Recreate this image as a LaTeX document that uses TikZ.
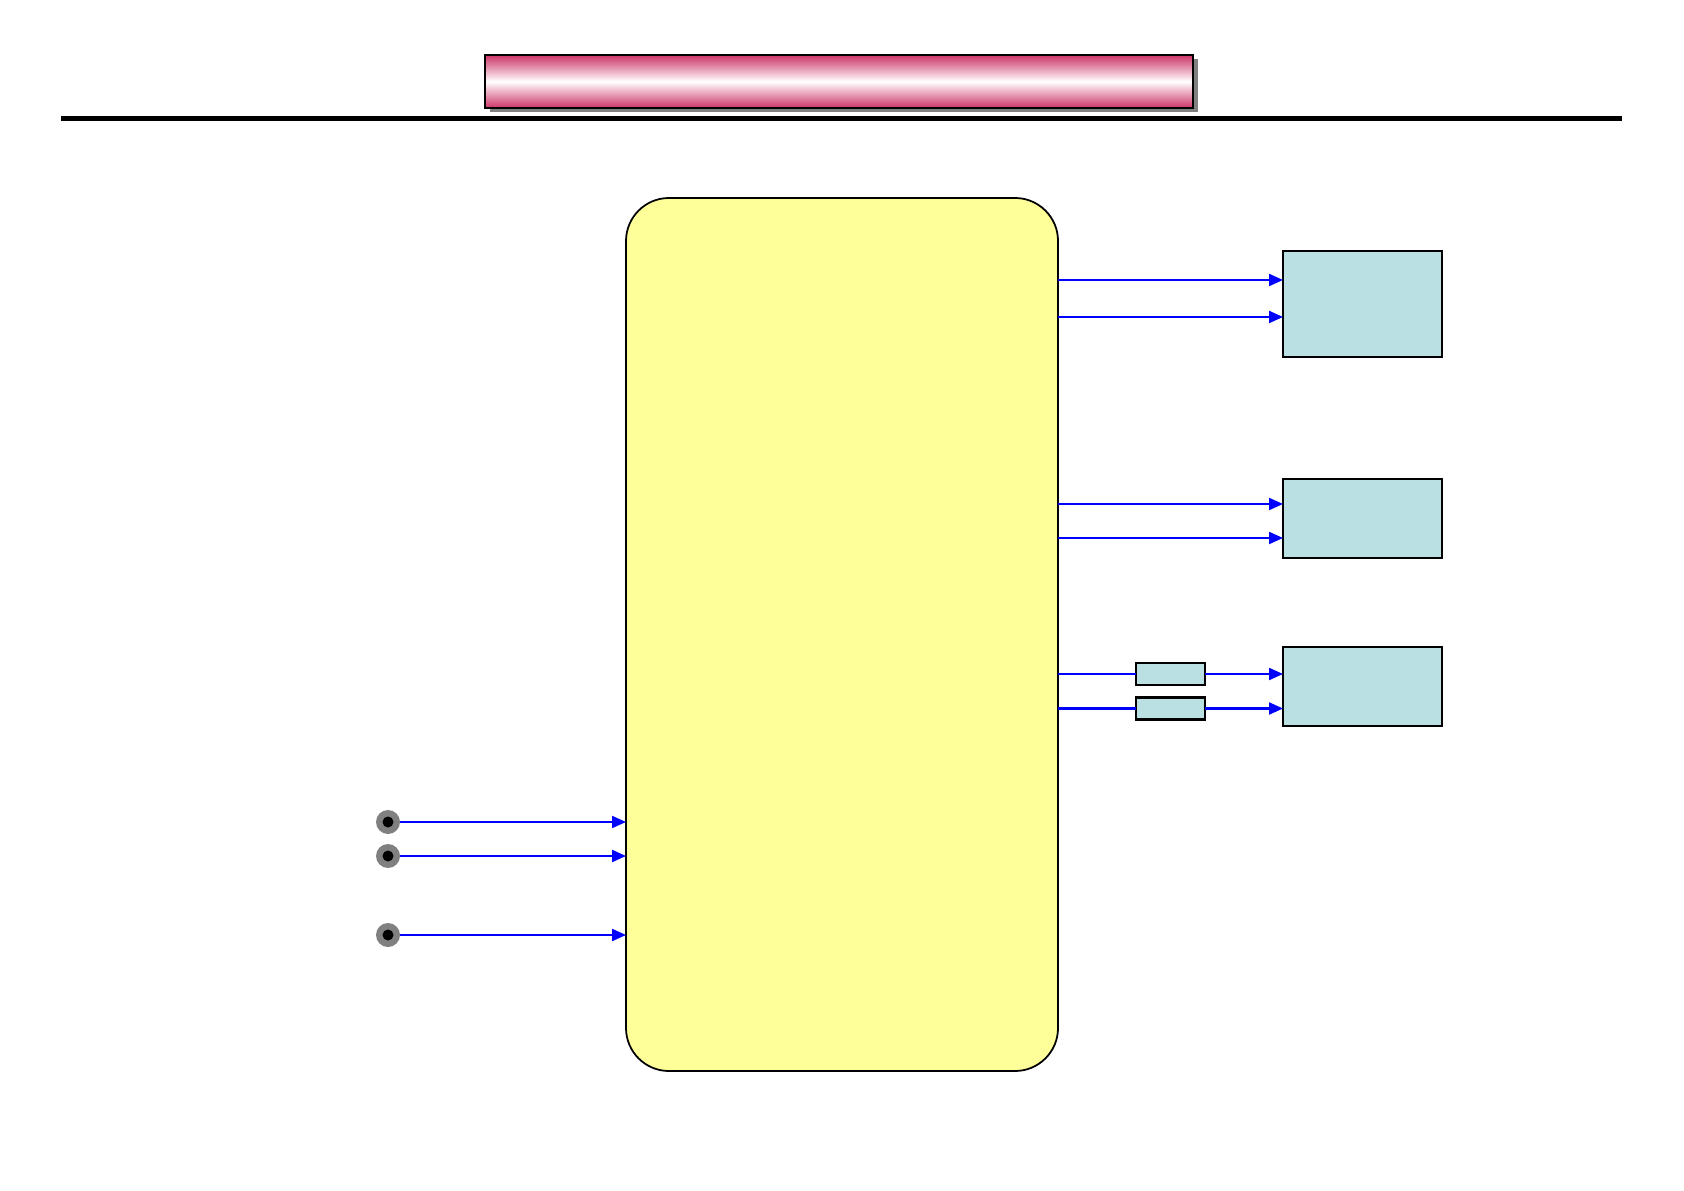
\documentclass[tikz,border=0pt]{standalone}
\usepackage{xcolor,tikz}
\usetikzlibrary{arrows.meta,shadows}
\definecolor{padyellow}{HTML}{FFFF99}
\definecolor{padblue}{HTML}{BBE0E3}
\definecolor{rose}{HTML}{CC3366}
\tikzset{core/.style={draw=black,fill=padyellow,rounded corners=4.3mm,line width=0.5pt,
 minimum width=4.32cm,minimum height=8.73cm,inner sep=0pt,outer sep=0pt},
 dev/.style={draw=black,fill=padblue,line width=0.8pt,inner sep=0pt,outer sep=0pt,minimum width=1.59cm},
 res/.style={draw=black,fill=padblue,line width=0.7pt,inner sep=0pt,outer sep=0pt,
 minimum width=0.69cm,minimum height=0.22cm},
 arr/.style={-{Triangle[length=1.4mm,width=1.2mm]},draw=blue,line width=0.6pt},
 wire/.style={draw=blue,line width=0.6pt},
 pin/.style={circle,fill=gray,minimum size=2.4mm,inner sep=0pt,outer sep=0pt},
 ttl/.style={draw=black,line width=0.6pt,top color=rose,bottom color=rose,middle color=white,
 minimum width=7.08cm,minimum height=0.53cm,inner sep=0pt,
 drop shadow={shadow xshift=0.45mm,shadow yshift=-0.45mm,fill=gray,opacity=1}}}
\begin{document}
\begin{tikzpicture}
\useasboundingbox (0,0) rectangle (16.84,-11.90);
\node[ttl] (t) at (8.39,-0.815) {};
\draw[line width=1.7pt] (0.61,-1.185) -- (16.22,-1.185);
\node[core] (c) at (8.42,-6.345) {};
\node[dev,minimum height=1.06cm] (a) at (13.625,-3.04) {};
\node[dev,minimum height=0.79cm] (b) at (13.625,-5.185) {};
\node[dev,minimum height=0.79cm] (d) at (13.625,-6.865) {};
\node[res] (r1) at (11.705,-6.74) {};
\node[res] (r2) at (11.705,-7.085) {};
\coordinate (a1) at (12.83,-2.80);
\coordinate (a2) at (12.83,-3.17);
\coordinate (b1) at (12.83,-5.04);
\coordinate (b2) at (12.83,-5.38);
\draw[arr] (c.east |- a1) -- (a1);
\draw[arr] (c.east |- a2) -- (a2);
\draw[arr] (c.east |- b1) -- (b1);
\draw[arr] (c.east |- b2) -- (b2);
\draw[wire] (c.east |- r1) -- (r1.west);
\draw[wire] (c.east |- r2) -- (r2.west);
\draw[arr] (r1.east) -- (d.west |- r1);
\draw[arr] (r2.east) -- (d.west |- r2);
\foreach \n/\y in {p1/-8.22,p2/-8.56,p3/-9.35}{
 \node[pin] (\n) at (3.88,\y) {};
 \fill (\n) circle (0.55mm);
 \draw[arr] (\n.east) -- (c.west |- \n);
}
\end{tikzpicture}
\end{document}
